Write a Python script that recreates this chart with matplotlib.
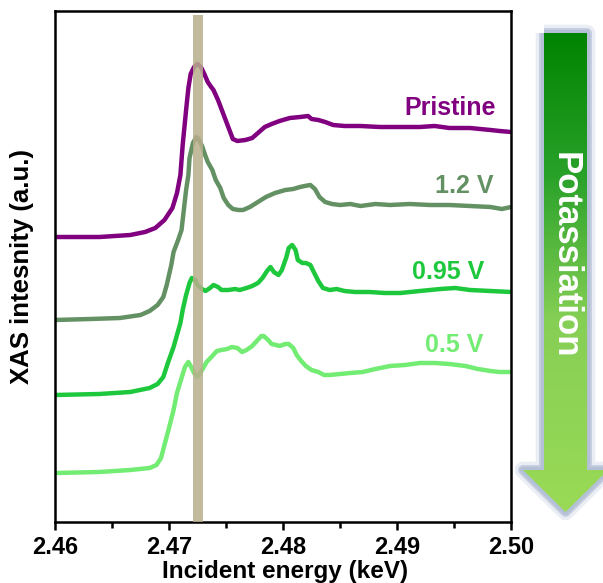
import numpy as np
import matplotlib
matplotlib.use("Agg")
import matplotlib.pyplot as plt
from matplotlib.patches import Polygon
from matplotlib.colors import LinearSegmentedColormap
import matplotlib.patheffects as pe

plt.rcParams['font.family'] = ['Liberation Sans', 'DejaVu Sans']
plt.rcParams['font.weight'] = 'bold'

# S K-edge XAS spectra, energy in eV, intensity in a.u. (stacked with offsets)
pristine_e = [2460.0, 2463.9, 2466.6, 2467.9, 2468.8, 2469.6, 2470.3, 2470.7, 2471.0, 2471.2,
              2471.5, 2471.7, 2471.9, 2472.2, 2472.5, 2472.8, 2473.1, 2473.4, 2473.7, 2473.9,
              2474.3, 2474.7, 2475.2, 2475.6, 2476.0, 2476.7, 2477.3, 2477.8, 2478.4, 2479.0,
              2479.7, 2480.6, 2481.5, 2482.2, 2482.5, 2483.1, 2483.7, 2484.4, 2485.4, 2486.8,
              2488.5, 2490.3, 2492.0, 2493.3, 2494.6, 2496.4, 2498.2, 2499.0, 2500.0]
pristine_i = [285, 285, 287, 290, 294, 302, 314, 329, 347, 377,
              412, 434, 448, 455, 458, 455, 448, 440, 435, 432,
              422, 410, 395, 383, 381, 382, 384, 389, 395, 398,
              401, 404, 405, 406, 403, 402, 400, 397, 396, 396,
              395, 395, 395, 396, 394, 394, 392, 391, 390]

v12_e = [2460.0, 2463.1, 2465.7, 2467.5, 2468.3, 2469.0, 2469.5, 2469.8, 2470.2, 2470.4,
         2470.8, 2471.1, 2471.3, 2471.5, 2471.7, 2471.8, 2472.1, 2472.4, 2472.6, 2472.9,
         2473.2, 2473.4, 2473.8, 2474.1, 2474.5, 2474.8, 2475.2, 2475.6, 2476.1, 2476.5,
         2477.1, 2477.8, 2478.5, 2479.3, 2480.2, 2480.9, 2481.5, 2481.9, 2482.4, 2482.8,
         2483.2, 2483.7, 2484.3, 2485.0, 2485.9, 2486.8, 2488.1, 2489.4, 2491.1, 2492.9,
         2494.6, 2496.4, 2498.2, 2499.2, 2499.6, 2500.0]
v12_i = [202, 203, 204, 207, 211, 217, 225, 237, 257, 270,
         282, 292, 312, 332, 347, 364, 379, 385, 383, 376,
         366, 360, 352, 342, 334, 324, 317, 313, 312, 312,
         315, 320, 325, 329, 332, 333, 335, 336, 337, 333,
         325, 320, 318, 317, 318, 316, 318, 317, 318, 317,
         317, 316, 315, 313, 314, 315]

v095_e = [2460.0, 2463.9, 2466.6, 2468.3, 2469.0, 2469.5, 2469.9, 2470.4, 2470.7, 2471.0,
          2471.2, 2471.5, 2471.8, 2472.0, 2472.3, 2472.5, 2472.9, 2473.2, 2473.6, 2473.9,
          2474.3, 2474.6, 2475.2, 2475.8, 2476.2, 2476.8, 2477.3, 2477.8, 2478.2, 2478.6,
          2478.9, 2479.2, 2479.6, 2479.9, 2480.3, 2480.5, 2480.8, 2481.1, 2481.3, 2481.7,
          2482.0, 2482.4, 2482.7, 2483.1, 2483.5, 2484.1, 2484.7, 2485.4, 2486.3, 2487.6,
          2488.9, 2490.3, 2492.0, 2493.8, 2495.1, 2496.4, 2498.2, 2500.0]
v095_i = [127, 128, 130, 134, 138, 145, 159, 175, 187, 199,
          212, 227, 239, 244, 242, 237, 233, 231, 234, 237,
          235, 232, 232, 233, 232, 234, 236, 239, 244, 251,
          255, 250, 247, 252, 265, 274, 277, 272, 262, 259,
          259, 257, 250, 241, 234, 232, 233, 231, 230, 230,
          229, 229, 231, 233, 234, 232, 231, 230]

v05_e = [2460.0, 2463.9, 2466.6, 2468.3, 2468.9, 2469.3, 2469.6, 2470.0, 2470.4, 2470.7,
         2471.1, 2471.4, 2471.7, 2471.9, 2472.2, 2472.5, 2472.7, 2473.0, 2473.3, 2473.8,
         2474.2, 2474.6, 2475.1, 2475.5, 2476.0, 2476.4, 2476.8, 2477.3, 2477.7, 2478.1,
         2478.3, 2478.7, 2479.0, 2479.4, 2479.7, 2480.2, 2480.5, 2480.9, 2481.2, 2481.6,
         2482.0, 2482.5, 2483.1, 2483.6, 2484.1, 2485.0, 2485.9, 2487.0, 2488.1, 2489.4,
         2490.7, 2492.0, 2493.3, 2494.6, 2496.0, 2497.1, 2498.2, 2499.0, 2500.0]
v05_i = [49, 50, 52, 54, 57, 64, 77, 94, 112, 129,
         144, 155, 160, 156, 149, 145, 148, 154, 160, 166,
         171, 172, 173, 175, 174, 170, 172, 176, 181, 186,
         186, 182, 178, 177, 176, 178, 178, 174, 167, 161,
         156, 152, 150, 147, 147, 148, 149, 150, 153, 156,
         157, 159, 159, 158, 156, 153, 151, 150, 150]

series = [
    ('Pristine', pristine_e, pristine_i, '#800080', (2.4947, 414)),
    ('1.2 V', v12_e, v12_i, '#649164', (2.4959, 336)),
    ('0.95 V', v095_e, v095_i, '#1ec83c', (2.4945, 250)),
    ('0.5 V', v05_e, v05_i, '#72ec72', (2.4950, 177)),
]

# shaded white-line position (keV)
band = (2.4721, 2.4730)

fig = plt.figure(figsize=(6.03, 5.83), dpi=100)
ax = fig.add_axes([55 / 603, 61 / 583, 456 / 603, 511 / 583])

for name, e, inten, col, (tx, ty) in series:
    ax.plot(np.array(e) / 1000.0, inten, color=col, lw=3.2, solid_capstyle='round', zorder=2)
    ax.text(tx, ty, name, color=col, fontsize=18, fontweight='bold', ha='center', va='center')

ax.axvspan(band[0], band[1], ymin=0, ymax=0.992, color='#b8ae8c', alpha=0.85, lw=0, zorder=3)

ax.set_xlim(2.46, 2.50)
ax.set_ylim(0, 511)
ax.set_xticks([2.46, 2.47, 2.48, 2.49, 2.50])
ax.set_xticklabels(['2.46', '2.47', '2.48', '2.49', '2.50'])
ax.set_xticks([2.465, 2.475, 2.485, 2.495], minor=True)
ax.set_yticks([])
ax.tick_params(axis='x', which='major', direction='out', length=6, width=1.8,
               labelsize=17, pad=4)
ax.tick_params(axis='x', which='minor', direction='out', length=4, width=1.8)
for lab in ax.get_xticklabels():
    lab.set_fontweight('bold')
for sp in ax.spines.values():
    sp.set_linewidth(1.8)

ax.set_xlabel('Incident energy (keV)', fontsize=17.5, fontweight='bold')
ax.xaxis.set_label_coords(0.505, -0.075)
ax.set_ylabel('XAS intesnity (a.u.)', fontsize=18.5, fontweight='bold')
ax.yaxis.set_label_coords(-0.046, 0.50)

# "Potassiation" arrow on the right, drawn in pixel space
ov = fig.add_axes([0, 0, 1, 1], zorder=5)
ov.set_xlim(0, 603)
ov.set_ylim(583, 0)
ov.axis('off')

arrow_pts = [(544, 33), (587, 33), (587, 470), (608, 470), (565.5, 512),
             (523, 470), (544, 470)]
glow = Polygon(arrow_pts, closed=True, facecolor='none', edgecolor='#b4c0d6', lw=4,
               joinstyle='round',
               path_effects=[pe.withStroke(linewidth=12, foreground='#dde3ee', alpha=0.6),
                             pe.withStroke(linewidth=7, foreground='#b8c3d8', alpha=0.8)])
ov.add_patch(glow)

grad = LinearSegmentedColormap.from_list(
    'pot', [(0.0, '#008400'), (0.3, '#2aa22a'), (0.6, '#86cf55'), (1.0, '#9ada55')])
ramp = np.linspace(0, 1, 256).reshape(-1, 1)
img = ov.imshow(ramp, cmap=grad, extent=(520, 610, 512, 33), aspect='auto', zorder=6)
clip = Polygon(arrow_pts, closed=True, transform=ov.transData, facecolor='none', edgecolor='none')
ov.add_patch(clip)
img.set_clip_path(clip)
ov.set_xlim(0, 603)
ov.set_ylim(583, 0)

ov.text(565.5, 255, 'Potassiation', rotation=270, color='white', fontsize=25,
        fontweight='bold', ha='center', va='center', zorder=7)

fig.savefig('out.png', dpi=100)
